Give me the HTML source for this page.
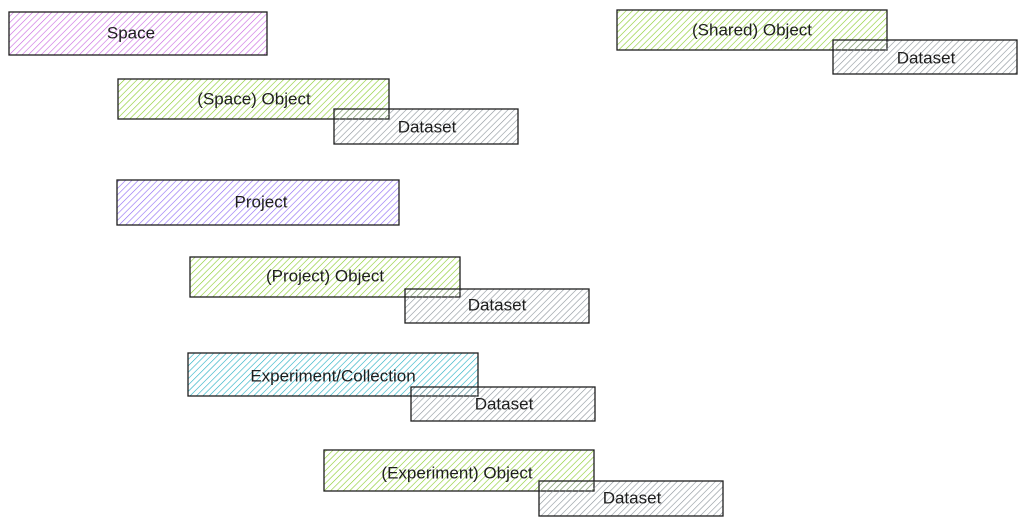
<!DOCTYPE html>
<html><head><style>body{margin:0;background:#fff}svg text{font-family:"Liberation Sans",sans-serif;font-size:17px;fill:#1e1e1e;text-anchor:middle;dominant-baseline:central}</style></head>
<body>
<svg width="1027" height="526" xmlns="http://www.w3.org/2000/svg">
<defs>
<pattern id="pu" width="4.5" height="4.5" patternUnits="userSpaceOnUse" patternTransform="rotate(45)"><line x1="0" y1="0" x2="0" y2="5" stroke="#be4bdb" stroke-width="1.2" opacity="0.85"/></pattern>
<pattern id="gr" width="4.5" height="4.5" patternUnits="userSpaceOnUse" patternTransform="rotate(45)"><line x1="0" y1="0" x2="0" y2="5" stroke="#82c91e" stroke-width="1.2" opacity="0.95"/></pattern>
<pattern id="gy" width="4.5" height="4.5" patternUnits="userSpaceOnUse" patternTransform="rotate(45)"><line x1="0" y1="0" x2="0" y2="5" stroke="#868e96" stroke-width="1.2" opacity="0.95"/></pattern>
<pattern id="vi" width="4.5" height="4.5" patternUnits="userSpaceOnUse" patternTransform="rotate(45)"><line x1="0" y1="0" x2="0" y2="5" stroke="#7950f2" stroke-width="1.2" opacity="0.85"/></pattern>
<pattern id="cy" width="4.5" height="4.5" patternUnits="userSpaceOnUse" patternTransform="rotate(45)"><line x1="0" y1="0" x2="0" y2="5" stroke="#15aabf" stroke-width="1.2" opacity="0.95"/></pattern>
</defs>
<g stroke="#1e1e1e" stroke-width="1.3">
<rect x="9" y="12" width="258" height="43" fill="url(#pu)"/>
<rect x="118" y="79" width="271" height="40" fill="url(#gr)"/>
<rect x="334" y="109" width="184" height="35" fill="url(#gy)"/>
<rect x="117" y="180" width="282" height="45" fill="url(#vi)"/>
<rect x="190" y="257" width="270" height="40" fill="url(#gr)"/>
<rect x="405" y="289" width="184" height="34" fill="url(#gy)"/>
<rect x="188" y="353" width="290" height="43" fill="url(#cy)"/>
<rect x="411" y="387" width="184" height="34" fill="url(#gy)"/>
<rect x="324" y="450" width="270" height="41" fill="url(#gr)"/>
<rect x="539" y="481" width="184" height="35" fill="url(#gy)"/>
<rect x="617" y="10" width="270" height="40" fill="url(#gr)"/>
<rect x="833" y="40" width="184" height="34" fill="url(#gy)"/>
</g>
<text x="131" y="33">Space</text>
<text x="254" y="99">(Space) Object</text>
<text x="427" y="127">Dataset</text>
<text x="261" y="202">Project</text>
<text x="325" y="276">(Project) Object</text>
<text x="497" y="305">Dataset</text>
<text x="333" y="376">Experiment/Collection</text>
<text x="504" y="404">Dataset</text>
<text x="457" y="473">(Experiment) Object</text>
<text x="632" y="498">Dataset</text>
<text x="752" y="30">(Shared) Object</text>
<text x="926" y="58">Dataset</text>
</svg>
</body></html>
